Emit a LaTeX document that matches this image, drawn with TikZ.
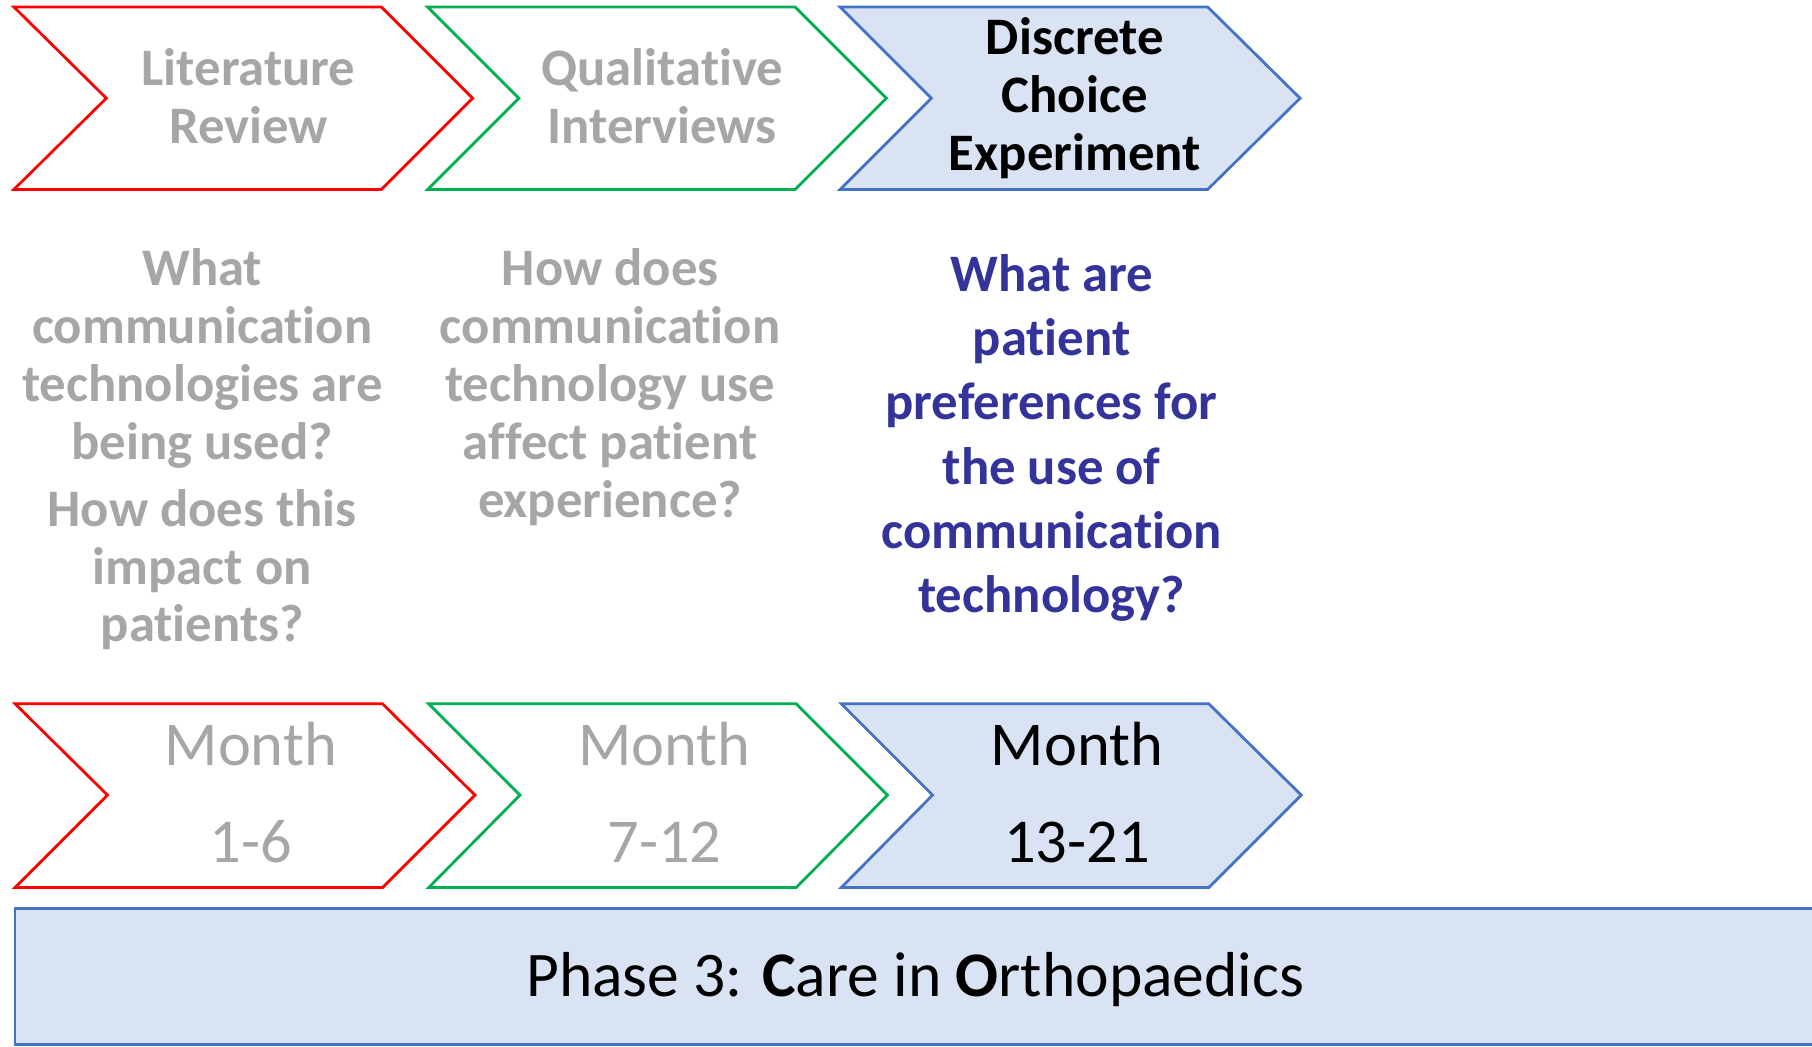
\documentclass[tikz,border=0pt]{standalone}
\usepackage{fontspec}
\setmainfont[RawFeature={-liga}]{Carlito}
\usepackage{xcolor}
\definecolor{redLine}{HTML}{FF0000}
\definecolor{greenLine}{HTML}{00B050}
\definecolor{blueLine}{HTML}{4472C4}
\definecolor{blueFill}{HTML}{DAE3F3}
\definecolor{greyText}{HTML}{A6A6A6}
\definecolor{navyText}{HTML}{333399}

\begin{document}
\begin{tikzpicture}[x=0.5pt,y=0.5pt,yscale=-1,
		title/.style={font=\fontsize{22.8}{25}\selectfont\bfseries, align=center, inner sep=0pt},
		question/.style={font=\fontsize{22.8}{25}\selectfont\bfseries, align=center, inner sep=0pt},
		month/.style={font=\fontsize{27}{42}\selectfont, align=center, inner sep=0pt}]
		\clip (0,0) rectangle (1568,906);

		% Top Chevrons
		\draw [redLine, line width=1.2pt]   (12,6)  -- (330,6)  -- (409,85)  -- (330,164)  -- (12,164)  -- (92,85)  -- cycle;
		\draw [greenLine, line width=1.2pt] (370,6) -- (688,6)  -- (767,85)  -- (688,164)  -- (370,164) -- (449,85) -- cycle;
		\draw [blueLine, fill=blueFill, line width=1.2pt] (727,6) -- (1045,6) -- (1125,85) -- (1045,164) -- (727,164) -- (806,85) -- cycle;

		% Bottom Chevrons
		\draw [redLine, line width=1.2pt]   (13,609)  -- (331,609)  -- (411,688)  -- (331,768)  -- (13,768)  -- (93,688)  -- cycle;
		\draw [greenLine, line width=1.2pt] (371,609) -- (689,609)  -- (768,688)  -- (689,768)  -- (371,768) -- (450,688) -- cycle;
		\draw [blueLine, fill=blueFill, line width=1.2pt] (728,609) -- (1046,609) -- (1126,688) -- (1046,768) -- (728,768) -- (807,688) -- cycle;

		% Phase Bar
		\draw [blueLine, fill=blueFill, line width=1.2pt] (13,786) rectangle (1590,904);

		% Text Node
		\draw (215,83)  node (litTitle)  [title, text=greyText] {Literature\\Review};
		\draw (573,83)  node (qualTitle) [title, text=greyText] {Qualitative\\Interviews};
		\draw (930,85)  node (dceTitle)  [title] {Discrete\\Choice\\Experiment};
		\draw (175,389) node (litQuestion)  [question, text=greyText] {What\\communication\\technologies are\\being used?\\[4pt]How does this\\impact on\\patients?};
		\draw (528,335) node (qualQuestion) [question, text=greyText] {How does\\communication\\technology use\\affect patient\\experience?};
		\draw (910,379) node (dceQuestion)  [question, text=navyText, font=\fontsize{22.8}{27.75}\selectfont\bfseries] {What are\\patient\\preferences for\\the use of\\communication\\technology?};
		\draw (217,686) node (litMonth)  [month, text=greyText] {Month\\1-6};
		\draw (575,686) node (qualMonth) [month, text=greyText] {Month\\7-12};
		\draw (932,686) node (dceMonth)  [month] {Month\\13-21};
		\draw (792,848) node (phaseLabel) [font=\fontsize{27.5}{32}\selectfont, inner sep=0pt] {Phase 3: \textbf{C}are in \textbf{O}rthopaedics};
	\end{tikzpicture}
\end{document}
